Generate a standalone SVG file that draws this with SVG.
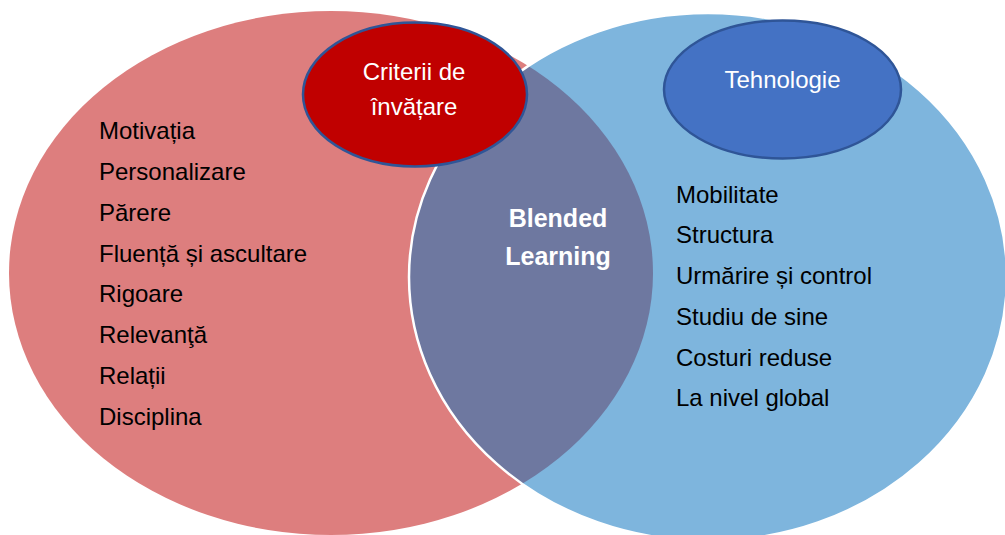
<svg xmlns="http://www.w3.org/2000/svg" width="1005" height="535" viewBox="0 0 1005 535">
  <style>
    .lbl { font-family: "Liberation Sans", Arial, sans-serif; font-size: 24px; fill: #000000; }
    .wht { font-family: "Liberation Sans", Arial, sans-serif; font-size: 24px; fill: #ffffff; text-anchor: middle; }
    .bold { font-family: "Liberation Sans", Arial, sans-serif; font-size: 25px; font-weight: bold; fill: #ffffff; text-anchor: middle; }
  </style>
  <defs>
    <clipPath id="blueClip">
      <ellipse cx="708" cy="277" rx="299" ry="264"/>
    </clipPath>
  </defs>
  <rect width="1005" height="535" fill="#ffffff"/>
  <g id="set-left">
    <ellipse cx="331" cy="273" rx="322" ry="262" fill="#DD7E7E"/>
  </g>
  <g id="set-right">
    <ellipse cx="708" cy="277" rx="299" ry="264" fill="#7EB5DD"/>
  </g>
  <g id="overlap">
    <ellipse cx="331" cy="273" rx="322" ry="262" fill="#6E78A0" clip-path="url(#blueClip)"/>
    <ellipse cx="708" cy="277" rx="299" ry="264" fill="none" stroke="#ffffff" stroke-width="2.5"/>
    <text class="bold" x="558" y="227">Blended</text>
    <text class="bold" x="558" y="265">Learning</text>
  </g>
  <g id="connectors"></g>
  <g id="criterii">
    <ellipse cx="415" cy="94.5" rx="112" ry="72" fill="#C00000" stroke="#2F5597" stroke-width="2.5"/>
    <text class="wht" x="414" y="80">Criterii de</text>
    <text class="wht" x="414" y="115">învățare</text>
  </g>
  <g id="tehnologie">
    <ellipse cx="782.5" cy="89.5" rx="118.5" ry="69" fill="#4472C4" stroke="#2F5597" stroke-width="2.5"/>
    <text class="wht" x="782.5" y="88">Tehnologie</text>
  </g>
  <g id="list-left">
    <text class="lbl" x="99" y="139">Motivația</text>
    <text class="lbl" x="99" y="180">Personalizare</text>
    <text class="lbl" x="99" y="221">Părere</text>
    <text class="lbl" x="99" y="262">Fluență și ascultare</text>
    <text class="lbl" x="99" y="302">Rigoare</text>
    <text class="lbl" x="99" y="343">Relevanţă</text>
    <text class="lbl" x="99" y="384">Relații</text>
    <text class="lbl" x="99" y="425">Disciplina</text>
  </g>
  <g id="list-right">
    <text class="lbl" x="676" y="203">Mobilitate</text>
    <text class="lbl" x="676" y="243">Structura</text>
    <text class="lbl" x="676" y="284">Urmărire și control</text>
    <text class="lbl" x="676" y="325">Studiu de sine</text>
    <text class="lbl" x="676" y="366">Costuri reduse</text>
    <text class="lbl" x="676" y="406">La nivel global</text>
  </g>
</svg>
